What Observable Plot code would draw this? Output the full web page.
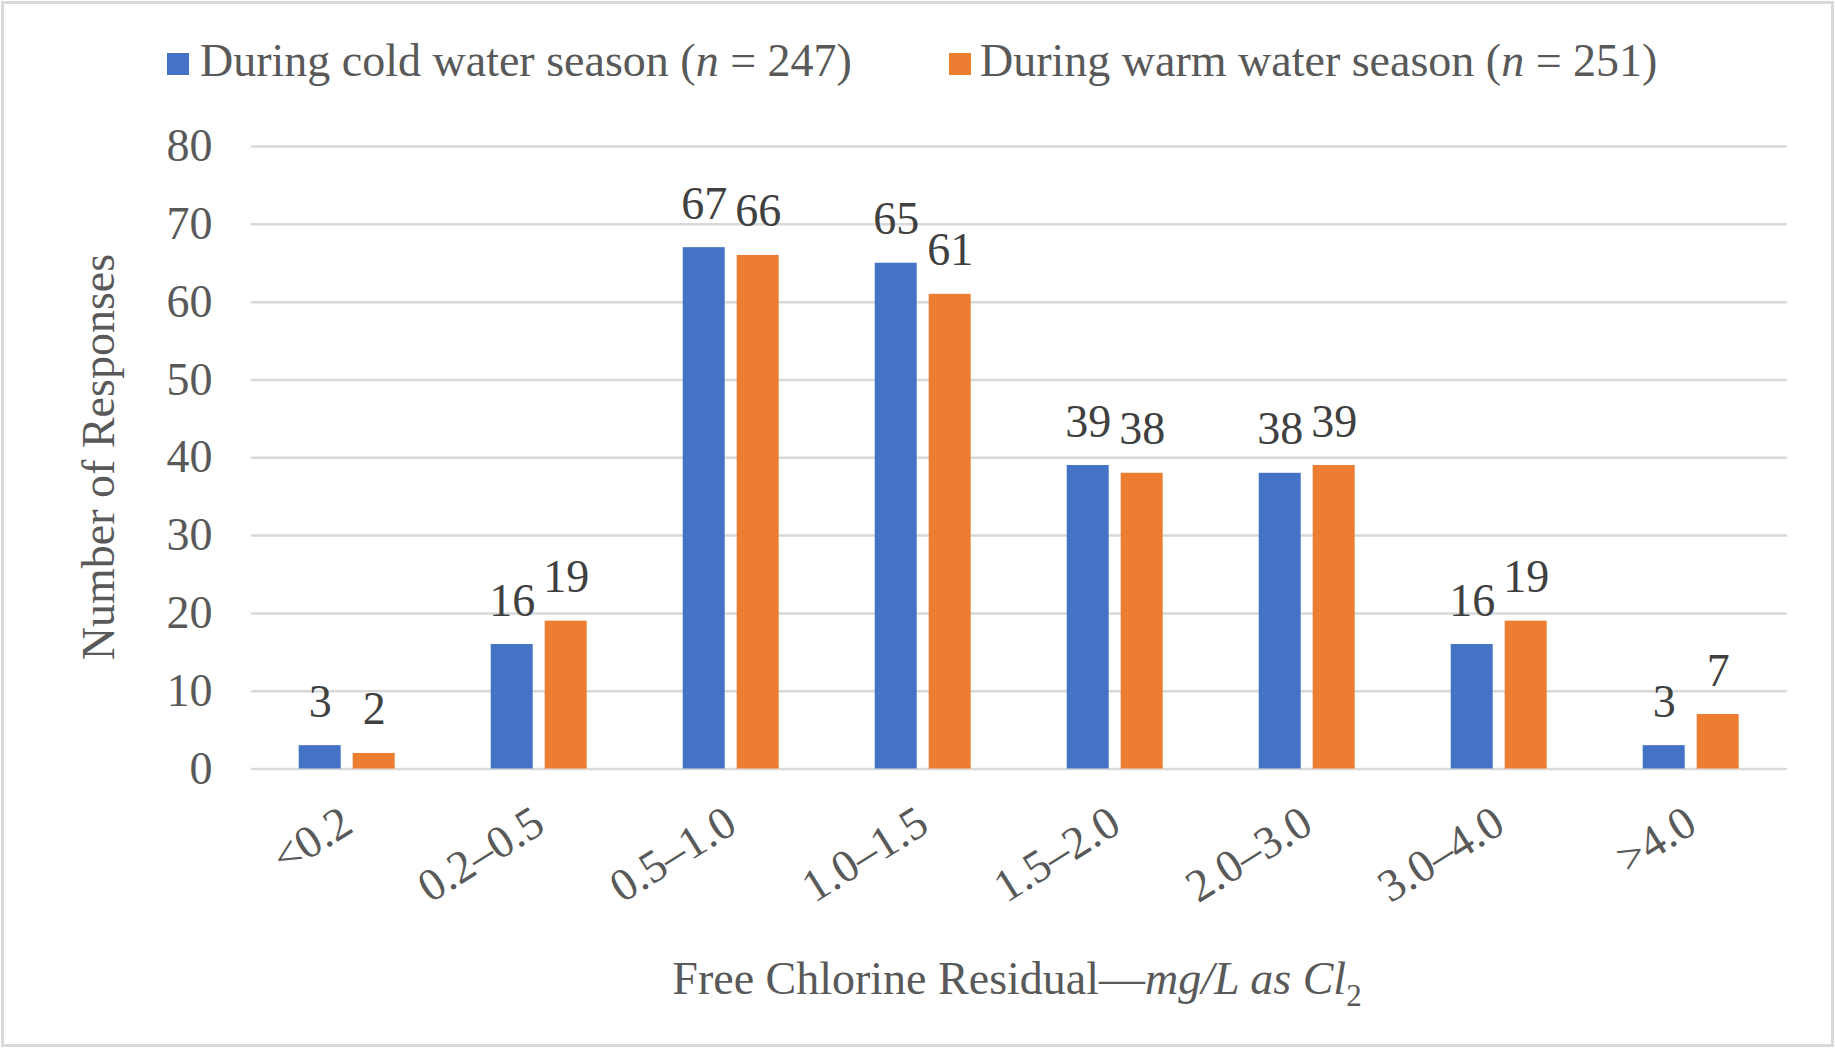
<!DOCTYPE html>
<html>
<head>
<meta charset="utf-8">
<script src="https://cdn.jsdelivr.net/npm/d3@7"></script>
<script src="https://cdn.jsdelivr.net/npm/@observablehq/plot@0.6"></script>
<style>
  html, body { margin: 0; padding: 0; background: #fff; }
  #page { position: relative; width: 1835px; height: 1048px; overflow: hidden;
          font-family: "Liberation Serif", "Times New Roman", serif; color: #595959; }
  #border { position: absolute; left: 1px; top: 1px; width: 1833px; height: 1046px;
            box-sizing: border-box; border: 3px solid #d9d9d9; pointer-events: none; }
  #legend { position: relative; height: 100px; }
  .lg-item { position: absolute; top: 38px; font-size: 46px; line-height: 46px; white-space: nowrap; }
  .lg-swatch { position: absolute; top: 53px; width: 22px; height: 22px; }
  #chart { position: relative; height: 840px; }
  #chart svg, #chart svg text, #chart svg g { font-family: "Liberation Serif", "Times New Roman", serif !important; }
  #xtitle { position: absolute; left: 517px; width: 1000px; top: 956px; text-align: center;
            font-size: 46px; line-height: 46px; white-space: nowrap; }
  #xtitle sub { font-size: 31px; font-style: normal; vertical-align: -12px; line-height: 0; }
  #ytitle { position: absolute; left: -201px; top: 434px; width: 600px; height: 46px; line-height: 46px;
            text-align: center; font-size: 46px; transform: rotate(-90deg); transform-origin: 50% 50%; white-space: nowrap; }
</style>
</head>
<body>
<div id="page">
  <div id="legend"></div>
  <div id="chart"></div>
  <div id="ytitle">Number of Responses</div>
  <div id="xtitle">Free Chlorine Residual—<i>mg/L as Cl<sub>2</sub></i></div>
  <div id="border"></div>
</div>
<script>
const categories = ["<0.2", "0.2–0.5", "0.5–1.0", "1.0–1.5", "1.5–2.0", "2.0–3.0", "3.0–4.0", ">4.0"];
const series = ["During cold water season", "During warm water season"];
const seriesN = [247, 251];
const coldValues = [3, 16, 67, 65, 39, 38, 16, 3];
const warmValues = [2, 19, 66, 61, 38, 39, 19, 7];
const yTicks = [0, 10, 20, 30, 40, 50, 60, 70, 80];
const colors = ["#4472C4", "#ED7D31"];

const data = categories.flatMap((c, i) => [
  {category: c, series: series[0], value: coldValues[i]},
  {category: c, series: series[1], value: warmValues[i]}
]);

// Legend (HTML above the SVG)
const legend = document.getElementById("legend");
const swatchLeft = [167, 949];
const textLeft = [200, 980];
series.forEach((s, i) => {
  const sw = document.createElement("div");
  sw.className = "lg-swatch";
  sw.style.left = swatchLeft[i] + "px";
  sw.style.background = colors[i];
  legend.appendChild(sw);
  const t = document.createElement("div");
  t.className = "lg-item";
  t.style.left = textLeft[i] + "px";
  t.innerHTML = s + " (<i>n</i> = " + seriesN[i] + ")";
  legend.appendChild(t);
});

const serif = '"Liberation Serif", "Times New Roman", serif';
const chart = Plot.plot({
  width: 1835,
  height: 840,
  marginTop: 46,
  marginBottom: 171.5,
  marginLeft: 249.3,
  marginRight: 47.3,
  style: {fontFamily: serif, fontSize: "46px", color: "#595959", background: "transparent", overflow: "visible"},
  fx: {domain: categories, padding: 0, label: null},
  x: {domain: series, paddingInner: 0.213, paddingOuter: 0.8545, axis: null},
  y: {domain: [0, 80]},
  color: {domain: series, range: colors},
  marks: [
    Plot.gridY(yTicks, {stroke: "#d9d9d9", strokeOpacity: 1, strokeWidth: 2.5}),
    Plot.barY(data, {fx: "category", x: "series", y: "value", fill: "series"}),
    Plot.text(data, {fx: "category", x: "series", y: "value", text: d => String(d.value),
      lineAnchor: "bottom", dy: -29, fill: "#404040", fontSize: 46, fontFamily: serif}),
    Plot.axisY(yTicks, {tickSize: 0, tickPadding: 39, fontSize: 46, fontFamily: serif, label: null}),
    Plot.axisFx({anchor: "bottom", tickSize: 0, tickPadding: 49, tickRotate: -32, fontSize: 46, fontFamily: serif, label: null})
  ]
});
document.getElementById("chart").appendChild(chart);
</script>
</body>
</html>
